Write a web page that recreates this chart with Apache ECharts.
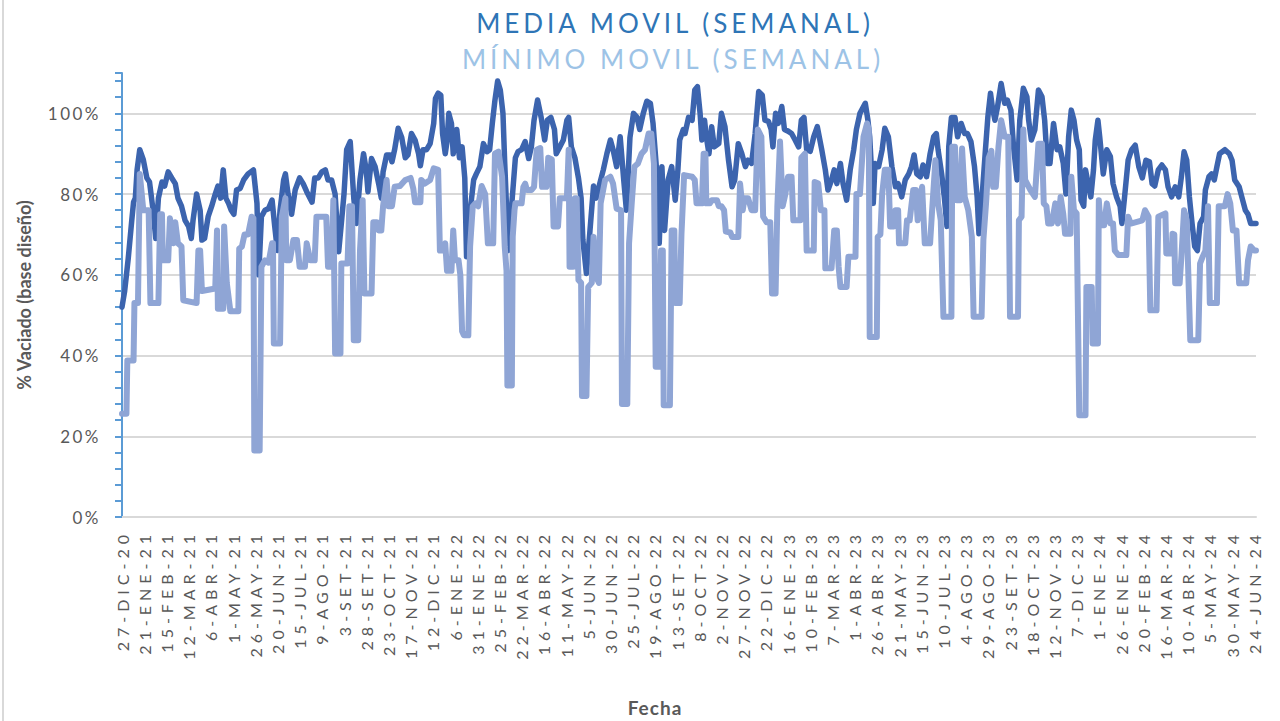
<!DOCTYPE html>
<html>
<head>
<meta charset="utf-8">
<script src="https://cdn.jsdelivr.net/npm/echarts@6/dist/echarts.min.js"></script>
<style>
  html, body { margin: 0; padding: 0; background: #fff; }
  #main { width: 1280px; height: 721px; }
  /* espaciado de letras como en el gráfico de Excel */
  #main text[style*="26px"] { letter-spacing: 4px; }
  #main text[style*="16px"] { letter-spacing: 5px; }
  #main text[style*="17px"] { letter-spacing: 2.5px; }
  #main text[style*="19px"] { letter-spacing: 1px; }
</style>
</head>
<body>
<div id="main"></div>
<script>
// etiquetas del eje X (cada 25 días desde 27-DIC-20)
const fechas = ['27-DIC-20', '21-ENE-21', '15-FEB-21', '12-MAR-21', '6-ABR-21', '1-MAY-21', '26-MAY-21', '20-JUN-21',
  '15-JUL-21', '9-AGO-21', '3-SET-21', '28-SET-21', '23-OCT-21', '17-NOV-21', '12-DIC-21', '6-ENE-22', '31-ENE-22',
  '25-FEB-22', '22-MAR-22', '16-ABR-22', '11-MAY-22', '5-JUN-22', '30-JUN-22', '25-JUL-22', '19-AGO-22', '13-SET-22',
  '8-OCT-22', '2-NOV-22', '27-NOV-22', '22-DIC-22', '16-ENE-23', '10-FEB-23', '7-MAR-23', '1-ABR-23', '26-ABR-23',
  '21-MAY-23', '15-JUN-23', '10-JUL-23', '4-AGO-23', '29-AGO-23', '23-SET-23', '18-OCT-23', '12-NOV-23', '7-DIC-23',
  '1-ENE-24', '26-ENE-24', '20-FEB-24', '16-MAR-24', '10-ABR-24', '5-MAY-24', '30-MAY-24', '24-JUN-24'];

// media móvil semanal: día desde 27-DIC-20 y % vaciado
const diasMedia = [0, 3, 7, 11, 13, 15, 17, 20, 24, 28, 31, 35, 38, 41, 45, 48, 52, 56, 60, 63, 67, 71, 75, 78, 80, 84, 88, 90,
  93, 97, 101, 105, 108, 111, 114, 117, 120, 123, 126, 129, 133, 137, 142, 148, 152, 154, 157, 161, 165, 169, 172, 175, 178,
  182, 184, 187, 191, 195, 200, 204, 208, 214, 217, 221, 225, 229, 232, 236, 240, 244, 247, 250, 253, 257, 261, 264, 268,
  272, 275, 277, 281, 285, 289, 292, 294, 298, 302, 304, 307, 311, 315, 319, 322, 326, 330, 334, 336, 339, 343, 347, 351,
  353, 356, 359, 361, 364, 366, 368, 371, 373, 377, 380, 383, 386, 388, 390, 393, 396, 399, 403, 407, 411, 414, 417, 420,
  423, 426, 429, 431, 435, 439, 443, 446, 450, 454, 458, 461, 464, 468, 472, 476, 479, 483, 487, 489, 493, 497, 501, 503,
  506, 510, 514, 517, 519, 523, 527, 531, 534, 538, 542, 546, 550, 553, 557, 561, 565, 568, 572, 576, 580, 583, 587, 591,
  595, 598, 602, 605, 608, 611, 615, 619, 623, 626, 628, 632, 634, 638, 642, 645, 648, 651, 653, 656, 658, 661, 664, 667,
  672, 675, 679, 683, 687, 690, 694, 698, 702, 705, 709, 713, 717, 721, 724, 728, 731, 733, 736, 739, 743, 746, 750, 754,
  758, 762, 765, 768, 771, 775, 779, 783, 788, 792, 795, 799, 802, 805, 809, 812, 816, 820, 824, 827, 831, 837, 840, 842,
  846, 848, 852, 856, 859, 863, 867, 871, 874, 878, 882, 886, 889, 892, 895, 899, 902, 906, 910, 914, 917, 919, 923, 926,
  929, 931, 934, 938, 941, 945, 949, 952, 956, 960, 963, 965, 968, 972, 975, 978, 980, 983, 986, 990, 994, 997, 1001, 1004,
  1008, 1011, 1015, 1019, 1021, 1024, 1028, 1032, 1036, 1039, 1042, 1045, 1049, 1053, 1056, 1060, 1063, 1066, 1069, 1072,
  1075, 1078, 1080, 1083, 1085, 1088, 1091, 1094, 1096, 1099, 1101, 1105, 1109, 1113, 1116, 1120, 1124, 1126, 1129, 1133,
  1137, 1141, 1145, 1149, 1153, 1157, 1160, 1163, 1167, 1171, 1175, 1178, 1182, 1186, 1190, 1193, 1196, 1199, 1202, 1205,
  1208, 1211, 1214, 1218, 1220, 1224, 1227, 1230, 1233, 1236, 1242, 1247, 1250, 1253, 1258, 1261, 1265, 1268, 1271, 1277];
const media = [52, 56, 64, 73.5, 78, 79, 86, 91, 88.5, 84, 83, 76, 69, 79, 83, 82, 85.5, 84, 82.6, 79, 77, 73.5, 72, 69, 73.5,
  80, 76, 68.6, 69, 74.4, 77, 80, 82, 79, 86, 79, 77.7, 76, 75, 81, 81.4, 83.5, 85, 86, 77.7, 60, 74.4, 76, 76.4, 78.5, 72,
  66, 76, 83.5, 85, 80, 75, 81, 84, 82.6, 80.6, 78, 84, 84, 85.5, 86, 83.5, 83.5, 80, 65.7, 72.7, 80, 91, 93, 79, 72.7, 83.5,
  90, 86, 80.6, 88.8, 86.8, 82.6, 79, 85.5, 89.7, 89.7, 88, 91, 96.3, 94, 89, 89.7, 95, 93.4, 90, 87, 91, 91, 92.5, 97.5,
  103.7, 105, 104.5, 95, 90, 93, 100, 97.5, 90, 96, 89, 91.7, 84, 64.5, 71, 77.7, 83.5, 85, 86.8, 92.5, 90.5, 91, 97.5,
  103.3, 108, 105.8, 100, 87.6, 66, 77.7, 89, 90.5, 91, 93, 88.8, 91.7, 98.3, 103.3, 99, 93.4, 98.3, 99, 96, 90, 91.7, 93.4,
  98.3, 99, 91.7, 89, 84, 79, 68.6, 60.3, 71, 82, 79, 82.6, 86, 90, 93.4, 91, 86.8, 94.2, 83.5, 76, 94, 100, 99, 96, 100,
  103, 102.5, 97.5, 86, 67.8, 86.8, 71, 83.5, 86.8, 78.5, 86, 93.4, 96, 95, 99, 98.3, 105.8, 106.6, 100, 93.4, 98.3, 94.2,
  90, 96.7, 91.7, 92.5, 100, 96.7, 88.4, 81.8, 83.5, 92.5, 90, 86.8, 88.4, 87.6, 95, 105.4, 104.5, 98.3, 98, 96, 91.7, 100,
  97.5, 101.7, 96, 95.6, 95, 93.4, 91.7, 98.3, 99, 91, 90.6, 94.2, 96.7, 91, 86, 81, 83.5, 86, 82.6, 87.6, 82.6, 78.5, 86,
  91, 96, 100, 102.5, 98.3, 94.2, 77.7, 87.6, 86.8, 91, 96.3, 94.2, 86.8, 81.8, 82.6, 79.3, 83.5, 85, 86.8, 89.7, 85, 84.3,
  87.2, 84.3, 90, 94.2, 95, 91, 85, 79.3, 72, 91.7, 99, 99, 94.2, 97.5, 95, 95, 93, 86.8, 79.3, 70.2, 77.7, 90, 99, 105,
  101.7, 98.3, 101.7, 107.4, 102.5, 103.3, 100.8, 91.7, 83.5, 98.3, 106.2, 104.1, 98.3, 93.4, 96, 105.8, 104.1, 98.3, 87.6,
  87.6, 97.5, 91, 91.7, 87.6, 80, 94.2, 100.8, 98.3, 93.4, 91, 78.5, 77, 86, 82.6, 79.3, 86, 93.4, 98.3, 94.2, 85, 91, 89.3,
  82.6, 79.3, 77, 72.7, 79.3, 88.4, 91, 92.1, 86.8, 84, 88.4, 88, 82.6, 82, 86, 87.2, 86, 81.8, 79.3, 81.8, 79.3, 84.3,
  90.5, 88.4, 79.3, 72.7, 67, 66, 72.7, 74.4, 81, 84.3, 85, 83.5, 86.8, 90, 91, 90, 88.4, 83.5, 81.8, 79.3, 76, 75, 72.7,
  72.7];

// mínimo móvil semanal
const diasMinimo = [0, 5, 6, 13, 14, 18, 20, 24, 30, 32, 41, 43, 45, 46, 52, 54, 58, 60, 63, 67, 69, 84, 86, 88, 90, 105,
  107, 108, 114, 115, 118, 122, 131, 132, 135, 138, 142, 146, 148, 149, 155, 157, 161, 165, 169, 170, 171, 178, 180, 184,
  185, 189, 193, 197, 200, 206, 208, 212, 217, 219, 230, 232, 236, 238, 240, 246, 247, 254, 256, 259, 261, 266, 268, 271,
  273, 281, 283, 287, 289, 292, 294, 298, 300, 304, 307, 313, 319, 325, 328, 330, 336, 337, 341, 347, 351, 356, 358, 361,
  364, 366, 371, 373, 375, 379, 381, 383, 385, 390, 392, 395, 398, 401, 405, 409, 412, 418, 420, 424, 428, 431, 433, 434,
  439, 440, 442, 443, 450, 452, 454, 456, 461, 464, 467, 471, 473, 478, 480, 484, 486, 491, 493, 501, 503, 504, 508, 510,
  512, 514, 517, 518, 523, 525, 529, 531, 534, 537, 539, 544, 550, 553, 557, 562, 563, 569, 571, 574, 577, 581, 585, 589,
  593, 596, 599, 601, 605, 607, 609, 610, 617, 619, 622, 623, 628, 630, 633, 642, 645, 647, 653, 655, 657, 658, 662, 664,
  670, 672, 675, 678, 680, 685, 687, 694, 696, 699, 701, 705, 709, 713, 716, 720, 722, 726, 730, 732, 736, 738, 741, 744,
  747, 750, 754, 756, 764, 765, 769, 771, 779, 780, 784, 787, 791, 792, 799, 802, 805, 807, 809, 816, 818, 826, 827, 831,
  835, 839, 841, 842, 850, 851, 854, 856, 859, 863, 865, 869, 871, 874, 875, 882, 884, 887, 891, 894, 896, 901, 904, 910,
  912, 916, 919, 922, 925, 934, 935, 938, 940, 944, 946, 949, 953, 957, 959, 968, 970, 973, 976, 979, 981, 984, 987, 990,
  994, 998, 1000, 1009, 1010, 1013, 1015, 1017, 1023, 1028, 1032, 1036, 1038, 1041, 1043, 1047, 1051, 1054, 1057, 1060,
  1062, 1068, 1069, 1072, 1075, 1078, 1085, 1086, 1092, 1093, 1099, 1100, 1102, 1106, 1109, 1113, 1116, 1118, 1122, 1131,
  1133, 1136, 1149, 1152, 1156, 1158, 1165, 1167, 1175, 1176, 1182, 1183, 1185, 1186, 1191, 1193, 1196, 1199, 1203, 1212,
  1214, 1217, 1220, 1223, 1225, 1233, 1235, 1242, 1245, 1248, 1251, 1255, 1258, 1266, 1268, 1271, 1275, 1277];
const minimo = [25.6, 25.6, 38.8, 38.8, 53, 53, 85, 76, 76, 53, 53, 75, 75, 63.6, 63.6, 74, 67.8, 73, 67.8, 67, 53.7, 53,
  66, 66, 56, 56.6, 71, 51.6, 51.6, 72, 58, 51, 51, 66.5, 67, 70, 70, 74.4, 74, 16.5, 16.5, 62, 63.6, 63, 67.8, 67.8, 43,
  43, 74.4, 79, 63.6, 63.6, 68.6, 68.6, 62, 62, 67.8, 63.6, 63.6, 74.4, 74.4, 62, 62, 78.5, 40.5, 40.5, 62.8, 62.8, 77, 77,
  43.8, 43.8, 66, 78.5, 55.4, 55.4, 73, 73, 71, 71, 77, 83.5, 77, 77, 81.8, 82, 83.5, 84, 81.4, 78, 78, 83.5, 82.6, 83.5,
  86.4, 86, 66, 66, 67.8, 61, 61, 71, 63.6, 63.6, 60, 46, 45, 45, 67, 77, 77.7, 77, 82, 80, 67.8, 67.8, 90, 90.5, 84.3, 67,
  61, 32.6, 32.6, 69.4, 76, 77.7, 77.7, 81.8, 82.6, 81, 81, 81.8, 91, 91.4, 81.8, 81.8, 89, 88.6, 72, 72, 79, 79, 91, 62,
  62, 79, 79, 58.7, 58, 30, 30, 57, 58, 69.4, 59.5, 58, 77.7, 83.5, 84.3, 82.6, 76.4, 76, 28, 28, 67.8, 77.7, 86.8, 87.6,
  90, 91, 95, 95, 87.6, 37.2, 37.2, 66, 66, 27.7, 27.7, 71, 71, 53, 53, 70, 84.7, 84.3, 83.5, 77.7, 77.7, 90, 90, 77.7,
  77.7, 78.5, 78.5, 77, 77, 76, 70.7, 70.5, 69.4, 69.4, 82.6, 76, 79, 79, 76, 76, 96, 94.2, 74.4, 73, 73, 55.4, 55.4, 77,
  93, 77, 80, 84.3, 84.3, 73.5, 73.5, 89, 90, 66, 66, 83, 82.6, 76, 76, 61.6, 61.6, 71, 71, 62, 57, 57, 64.5, 64.5, 80, 80,
  94.2, 97.5, 96, 44.6, 44.6, 69.4, 70, 80, 86, 86, 72, 72, 76, 76, 67.8, 67.8, 73.5, 73.5, 81, 81, 73.5, 81.8, 67.8, 67.8,
  75, 88.4, 77.7, 73.5, 49.6, 49.6, 91.7, 91.7, 78.5, 78.5, 91.3, 79.3, 76, 69.4, 49.6, 49.6, 68.6, 77.7, 89, 90.7, 81.8,
  81.8, 91.7, 98.3, 94.2, 94.2, 49.6, 49.6, 73.5, 74.4, 96, 83.5, 81, 79.3, 92.5, 92.5, 77.7, 77, 72.7, 72.7, 77.7, 72.7,
  79.3, 75, 70.2, 70.2, 84.3, 76, 75.2, 25.2, 25.2, 57, 57, 43, 43, 78.5, 72.3, 72.3, 77.7, 72.7, 72.7, 66, 64.9, 64.9,
  74.4, 72.7, 73.5, 76, 74.4, 51.2, 51.2, 74.4, 75.2, 65.3, 65.3, 70.2, 70, 57.9, 57.9, 64.5, 76, 73.5, 43.8, 43.8, 62.8,
  64.5, 66, 77, 53, 53, 77, 77, 80, 77.7, 71, 71, 57.9, 57.9, 63.6, 67, 66, 66];

const chart = echarts.init(document.getElementById('main'), null, {renderer: 'svg'});

chart.setOption({
  animation: false,
  backgroundColor: '#fff',
  title: [{
    text: 'MEDIA MOVIL (SEMANAL)',
    left: 675, top: 10, textAlign: 'center', padding: 0,
    textStyle: {color: '#2e75b6', fontSize: 26, fontWeight: 'normal', fontFamily: 'Lato'}
  }, {
    text: 'MÍNIMO MOVIL (SEMANAL)',
    left: 673, top: 46, textAlign: 'center', padding: 0,
    textStyle: {color: '#9dc3e6', fontSize: 26, fontWeight: 'normal', fontFamily: 'Lato'}
  }],
  graphic: [{
    type: 'line', shape: {x1: 3, y1: 0, x2: 3, y2: 721},
    style: {stroke: '#d9d9d9', lineWidth: 2}, silent: true
  }],
  grid: {left: 122, right: 24, top: 73, bottom: 204, containLabel: false, outerBoundsMode: 'none'},
  xAxis: {
    type: 'value',
    min: 0,
    max: 1277,
    interval: 25,
    name: 'Fecha',
    nameLocation: 'middle',
    nameGap: 181,
    nameTextStyle: {color: '#595959', fontSize: 19, fontWeight: 'bold', fontFamily: 'Lato', padding: [0, 68, 0, 0]},
    axisLine: {show: true, lineStyle: {color: '#d9d9d9', width: 2}},
    axisTick: {show: false},
    splitLine: {show: false},
    axisLabel: {
      rotate: 90,
      margin: 13,
      color: '#595959',
      fontSize: 16,
      fontFamily: 'Lato',
      showMinLabel: true,
      showMaxLabel: false,
      formatter: (v) => (v % 25 === 0 ? (fechas[v / 25] || '') : '')
    }
  },
  yAxis: {
    type: 'value',
    min: 0,
    max: 110,
    interval: 20,
    name: '% Vaciado (base diseño)',
    nameLocation: 'middle',
    nameGap: 89,
    nameTextStyle: {color: '#595959', fontSize: 18, fontWeight: 'bold', fontFamily: 'Lato'},
    axisLine: {show: true, lineStyle: {color: '#5b9bd5', width: 2}},
    axisTick: {show: true, inside: false, length: 7, lineStyle: {color: '#5b9bd5', width: 2}},
    minorTick: {show: true, splitNumber: 5, length: 7, lineStyle: {color: '#5b9bd5', width: 2}},
    splitLine: {show: true, showMaxLine: false, lineStyle: {color: '#d9d9d9', width: 2}},
    axisLabel: {
      margin: 21,
      color: '#595959',
      fontSize: 17,
      fontFamily: 'Lato',
      showMaxLabel: false,
      formatter: '{value}%'
    }
  },
  series: [{
    name: 'MEDIA MOVIL (SEMANAL)',
    type: 'line',
    showSymbol: false,
    data: diasMedia.map((d, i) => [d, media[i]]),
    lineStyle: {color: '#3c64ae', width: 5.5, join: 'round', cap: 'round'},
    itemStyle: {color: '#3c64ae'}
  }, {
    name: 'MÍNIMO MOVIL (SEMANAL)',
    type: 'line',
    showSymbol: false,
    data: diasMinimo.map((d, i) => [d, minimo[i]]),
    lineStyle: {color: '#8fa5d5', width: 6, join: 'round', cap: 'round'},
    itemStyle: {color: '#8fa5d5'}
  }]
});
</script>
</body>
</html>
